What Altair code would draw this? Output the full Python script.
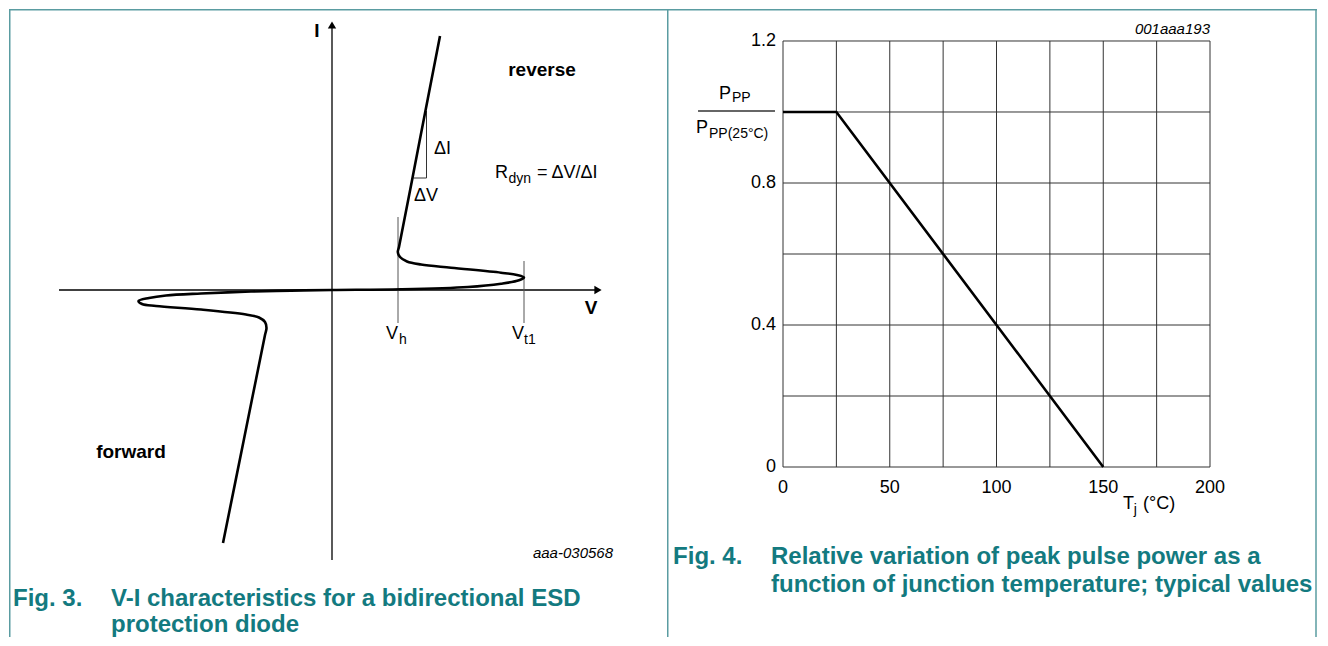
import altair as alt
import pandas as pd

# ---------------- Fig. 3 : schematic V-I characteristic (arbitrary units) ----------------
curve_v = [1.08, 0.875, 0.67, 0.658, 0.68, 0.75, 0.89, 1.19, 1.69, 1.85, 1.92, 1.87, 1.69, 1.36, 0.69, 0.0,
           -0.41, -0.81, -1.31, -1.66, -1.83, -1.935, -1.90, -1.76, -1.31, -0.86, -0.73, -0.67, -0.655, -0.67, -0.88, -1.09]
curve_i = [2.54, 1.485, 0.43, 0.38, 0.33, 0.285, 0.255, 0.223, 0.173, 0.15, 0.125, 0.097, 0.063, 0.03, 0.007, 0.0,
           -0.006, -0.015, -0.035, -0.055, -0.08, -0.11, -0.14, -0.16, -0.195, -0.245, -0.275, -0.32, -0.38, -0.45, -1.49, -2.53]
v_hold = 0.66
v_trigger = 1.92

# ---------------- Fig. 4 : P_PP / P_PP(25°C) versus Tj ----------------
tj_c = [0, 25, 150]
ppp_rel = [1.0, 1.0, 0.0]
tj_grid = [0, 25, 50, 75, 100, 125, 150, 175, 200]
ppp_grid = [0.0, 0.2, 0.4, 0.6, 0.8, 1.0, 1.2]
tj_ticks = [0, 50, 100, 150, 200]
ppp_ticks = [0.0, 0.4, 0.8, 1.2]

FONT = "Liberation Sans"
TEAL = "#137a80"
BORDER = "#5a9ca1"
W_L, W_R, H = 658, 650, 628

lx = alt.Scale(domain=[-3.23, 3.35], nice=False, zero=False)
ly = alt.Scale(domain=[-3.47, 2.81], nice=False, zero=False)
rx = alt.Scale(domain=[-54.333, 250.117], nice=False, zero=False)
ry = alt.Scale(domain=[-0.47887, 1.29014], nice=False, zero=False)


def X(f, sc):
    return alt.X(f"{f}:Q", scale=sc, axis=None)


def Y(f, sc):
    return alt.Y(f"{f}:Q", scale=sc, axis=None)


def labels(rows, sx, sy, **mk):
    df = pd.DataFrame(rows, columns=["x", "y", "t"])
    return alt.Chart(df).mark_text(font=FONT, baseline="middle", **mk).encode(
        x=X("x", sx), y=Y("y", sy), text="t:N")


def segs(xs, ys, x2s, y2s, sx, sy, **mk):
    df = pd.DataFrame({"x": xs, "y": ys, "x2": x2s, "y2": y2s})
    return alt.Chart(df).mark_rule(**mk).encode(
        x=X("x", sx), y=Y("y", sy), x2="x2:Q", y2="y2:Q")


one = pd.DataFrame({"k": [0]})


def frame(width, left=True, right=False):
    parts = [alt.Chart(one).mark_rule(color=BORDER, strokeWidth=1.5).encode(
        x=alt.value(0), x2=alt.value(width), y=alt.value(0.75))]
    if left:
        parts.append(alt.Chart(one).mark_rule(color=BORDER, strokeWidth=1.5).encode(
            x=alt.value(0.75), y=alt.value(0), y2=alt.value(H)))
    if right:
        parts.append(alt.Chart(one).mark_rule(color=BORDER, strokeWidth=1.5).encode(
            x=alt.value(width - 1), y=alt.value(0), y2=alt.value(H)))
    return parts


# ---------------- left panel ----------------
curve_df = pd.DataFrame({"v": curve_v, "i": curve_i, "o": list(range(len(curve_v)))})
curve = alt.Chart(curve_df).mark_line(color="black", strokeWidth=2.6, interpolate="catmull-rom").encode(
    x=X("v", lx), y=Y("i", ly), order="o:Q")

axes = segs([-2.73, 0.0], [0.0, -2.70], [2.64, 0.0], [0.0, 2.64], lx, ly, color="black", strokeWidth=1.3)
arrows = alt.Chart(pd.DataFrame({"x": [0.0, 2.66], "y": [2.65, 0.0],
                                 "s": ["triangle-up", "triangle-right"]})).mark_point(
    filled=True, color="black", opacity=1, size=70).encode(
    x=X("x", lx), y=Y("y", ly), shape=alt.Shape("s:N", scale=None, legend=None))

markers = segs([v_hold, v_trigger], [0.73, 0.29], [v_hold, v_trigger], [-0.33, -0.33], lx, ly,
               color="#555", strokeWidth=1)
delta = segs([0.945, 0.815], [1.79, 1.12], [0.945, 0.945], [1.12, 1.12], lx, ly,
             color="#333", strokeWidth=1)

left_layers = frame(W_L) + [
    axes, arrows, markers, delta, curve,
    labels([[-0.15, 2.59, "I"], [2.59, -0.18, "V"], [2.10, 2.20, "reverse"], [-2.01, -1.62, "forward"]],
           lx, ly, fontSize=19, fontWeight="bold", color="black"),
    labels([[1.02, 1.41, "ΔI"], [0.82, 0.94, "ΔV"], [1.63, 1.17, "R"], [2.05, 1.17, "= ΔV/ΔI"],
            [0.54, -0.44, "V"], [1.80, -0.44, "V"]],
           lx, ly, fontSize=18, align="left", color="black"),
    labels([[1.765, 1.115, "dyn"], [0.67, -0.50, "h"], [1.92, -0.50, "t1"]],
           lx, ly, fontSize=14, align="left", color="black"),
    labels([[2.81, -2.63, "aaa-030568"]], lx, ly, fontSize=15, fontStyle="italic", align="right", color="black"),
    labels([[-3.19, -3.085, "Fig. 3."], [-2.21, -3.085, "V-I characteristics for a bidirectional ESD"],
            [-2.21, -3.345, "protection diode"]],
           lx, ly, fontSize=24, fontWeight="bold", align="left", color=TEAL),
]
NOVIEW = alt.ViewBackground(stroke="transparent", strokeWidth=0, strokeOpacity=0)
left = alt.layer(*left_layers).properties(width=W_L, height=H, view=NOVIEW)

# ---------------- right panel ----------------
vgrid = alt.Chart(pd.DataFrame({"t": tj_grid})).mark_rule(color="#333", strokeWidth=1).encode(
    x=X("t", rx), y=alt.Y("y0:Q", scale=ry, axis=None), y2="y1:Q").transform_calculate(y0="0", y1="1.2")
hgrid = alt.Chart(pd.DataFrame({"p": ppp_grid})).mark_rule(color="#333", strokeWidth=1).encode(
    y=Y("p", ry), x=alt.X("x0:Q", scale=rx, axis=None), x2="x1:Q").transform_calculate(x0="0", x1="200")
pline = alt.Chart(pd.DataFrame({"t": tj_c, "p": ppp_rel})).mark_line(color="black", strokeWidth=2.6).encode(
    x=X("t", rx), y=Y("p", ry))

xt = alt.Chart(pd.DataFrame({"t": tj_ticks})).mark_text(font=FONT, fontSize=18, baseline="middle",
                                                       color="black").encode(
    x=X("t", rx), y=alt.Y("yy:Q", scale=ry, axis=None), text=alt.Text("t:Q", format="d")
).transform_calculate(yy="-0.059")
yt = alt.Chart(pd.DataFrame({"p": ppp_ticks})).mark_text(font=FONT, fontSize=18, baseline="middle",
                                                        align="right", color="black").encode(
    y=Y("p", ry), x=alt.X("xx:Q", scale=rx, axis=None), text=alt.Text("p:Q", format=".1~f")
).transform_calculate(xx="-3.3")

frac_bar = segs([-39.8], [1.003], [-3.75], [1.003], rx, ry, color="#333", strokeWidth=1.5)

right_layers = frame(W_R, left=True, right=True) + [
    vgrid, hgrid, pline, xt, yt, frac_bar,
    labels([[-30.0, 1.051, "P"], [-40.75, 0.955, "P"], [159.3, -0.104, "T"], [168.6, -0.104, "(°C)"]],
           rx, ry, fontSize=18, align="left", color="black"),
    labels([[-23.9, 1.039, "PP"], [-34.66, 0.938, "PP(25°C)"], [164.3, -0.121, "j"]],
           rx, ry, fontSize=14, align="left", color="black"),
    labels([[200, 1.234, "001aaa193"]], rx, ry, fontSize=15, fontStyle="italic", align="right", color="black"),
    labels([[-51.5, -0.2535, "Fig. 4."], [-5.62, -0.2535, "Relative variation of peak pulse power as a"],
            [-5.62, -0.3324, "function of junction temperature; typical values"]],
           rx, ry, fontSize=24, fontWeight="bold", align="left", color=TEAL),
]
right = alt.layer(*right_layers).properties(width=W_R, height=H, view=NOVIEW)

chart = alt.hconcat(left, right, spacing=0, bounds="flush").properties(padding=0).configure_view(
    stroke="transparent", strokeWidth=0).configure(font=FONT, background="white")

chart.save("out.html", embed_options={"renderer": "svg", "actions": False})
